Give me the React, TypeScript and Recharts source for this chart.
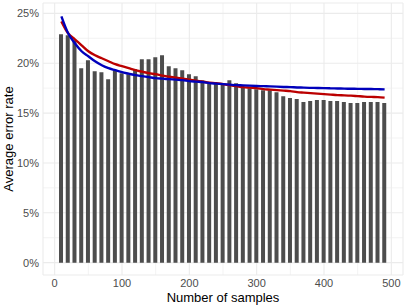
import React from 'react';
import { ComposedChart, Bar, Line, XAxis, YAxis, CartesianGrid, Label } from 'recharts';

const samples = [10,20,30,40,50,60,70,80,90,100,110,120,130,140,150,160,170,180,190,200,210,220,230,240,250,260,270,280,290,300,310,320,330,340,350,360,370,380,390,400,410,420,430,440,450,460,470,480,490];

const errorRate = [22.9,22.8,22.3,19.5,20.3,19.2,19.1,18.4,19.3,19.0,18.9,19.4,20.4,20.4,20.6,20.8,19.7,19.5,19.3,18.9,18.7,18.3,18.1,18.0,17.9,18.3,18.0,17.6,17.5,17.4,17.3,17.3,17.1,16.7,16.5,16.4,16.1,16.2,16.3,16.3,16.2,16.2,16.1,16.0,16.0,16.1,16.1,16.1,16.0];

const redFit = [24.2,23.0,22.4,21.8,21.2,20.8,20.5,20.2,19.9,19.7,19.5,19.3,19.15,19.0,18.9,18.75,18.65,18.55,18.45,18.35,18.25,18.15,18.05,18.0,17.9,17.8,17.7,17.6,17.55,17.5,17.4,17.35,17.3,17.25,17.2,17.1,17.05,17.0,16.95,16.9,16.85,16.8,16.78,16.75,16.7,16.65,16.62,16.6,16.55];

const blueFit = [24.7,23.0,22.0,21.2,20.7,20.2,19.8,19.5,19.3,19.1,18.95,18.8,18.7,18.6,18.5,18.45,18.4,18.35,18.3,18.2,18.15,18.1,18.0,17.95,17.9,17.85,17.8,17.78,17.75,17.72,17.7,17.68,17.65,17.62,17.6,17.57,17.55,17.53,17.52,17.5,17.48,17.47,17.45,17.44,17.43,17.42,17.41,17.4,17.38];

const xTicks = [0,100,200,300,400,500];
const yTicks = [0,5,10,15,20,25];
const xMinor = [50,150,250,350,450];
const yMinor = [2.5,7.5,12.5,17.5,22.5];

const data = samples.map((s, i) => ({ x: s, err: errorRate[i], red: redFit[i], blue: blueFit[i] }));

const FONT = '"Liberation Sans", Arial, sans-serif';

const XTitle = (props: any) => {
  const vb = props.viewBox || {};
  return (
    <text x={vb.x + vb.width / 2} y={301.5} textAnchor="middle" fontFamily={FONT} fontSize={13} fill="#000">
      Number of samples
    </text>
  );
};

const YTitle = (props: any) => {
  const vb = props.viewBox || {};
  const cy = vb.y + vb.height / 2;
  return (
    <text x={13} y={cy} transform={`rotate(-90 13 ${cy})`} textAnchor="middle" fontFamily={FONT} fontSize={13} fill="#000">
      Average error rate
    </text>
  );
};

export default function App() {
  return (
    <div style={{ position: 'absolute', left: 0, top: 0 }}>
      <ComposedChart width={407} height={305} data={data} margin={{ top: 3, right: 4, bottom: 0, left: 0 }}>
        <CartesianGrid stroke="#ebebeb" strokeWidth={0.6} horizontalValues={yMinor} verticalValues={xMinor} />
        <CartesianGrid stroke="#ebebeb" strokeWidth={1.1} />
        <XAxis
          dataKey="x"
          type="number"
          domain={[-17.3, 517.3]}
          ticks={xTicks}
          allowDataOverflow
          axisLine={false}
          tickLine={false}
          tickSize={0}
          tickMargin={4}
          height={30}
          tick={{ fill: '#4d4d4d', fontSize: 11, fontFamily: FONT }}
        >
          <Label content={XTitle} />
        </XAxis>
        <YAxis
          type="number"
          domain={[-1.24, 26.04]}
          ticks={yTicks}
          allowDataOverflow
          axisLine={false}
          tickLine={false}
          tickSize={0}
          tickMargin={4}
          width={43}
          tickFormatter={(v: number) => `${v}%`}
          tick={{ fill: '#4d4d4d', fontSize: 11, fontFamily: FONT }}
        >
          <Label content={YTitle} />
        </YAxis>
        <Bar dataKey="err" fill="#4d4d4d" barSize={4} isAnimationActive={false} />
        <Line dataKey="red" type="monotone" stroke="#bb0000" strokeWidth={2.4} dot={false} isAnimationActive={false} />
        <Line dataKey="blue" type="monotone" stroke="#0000bb" strokeWidth={2.4} dot={false} isAnimationActive={false} />
      </ComposedChart>
    </div>
  );
}
